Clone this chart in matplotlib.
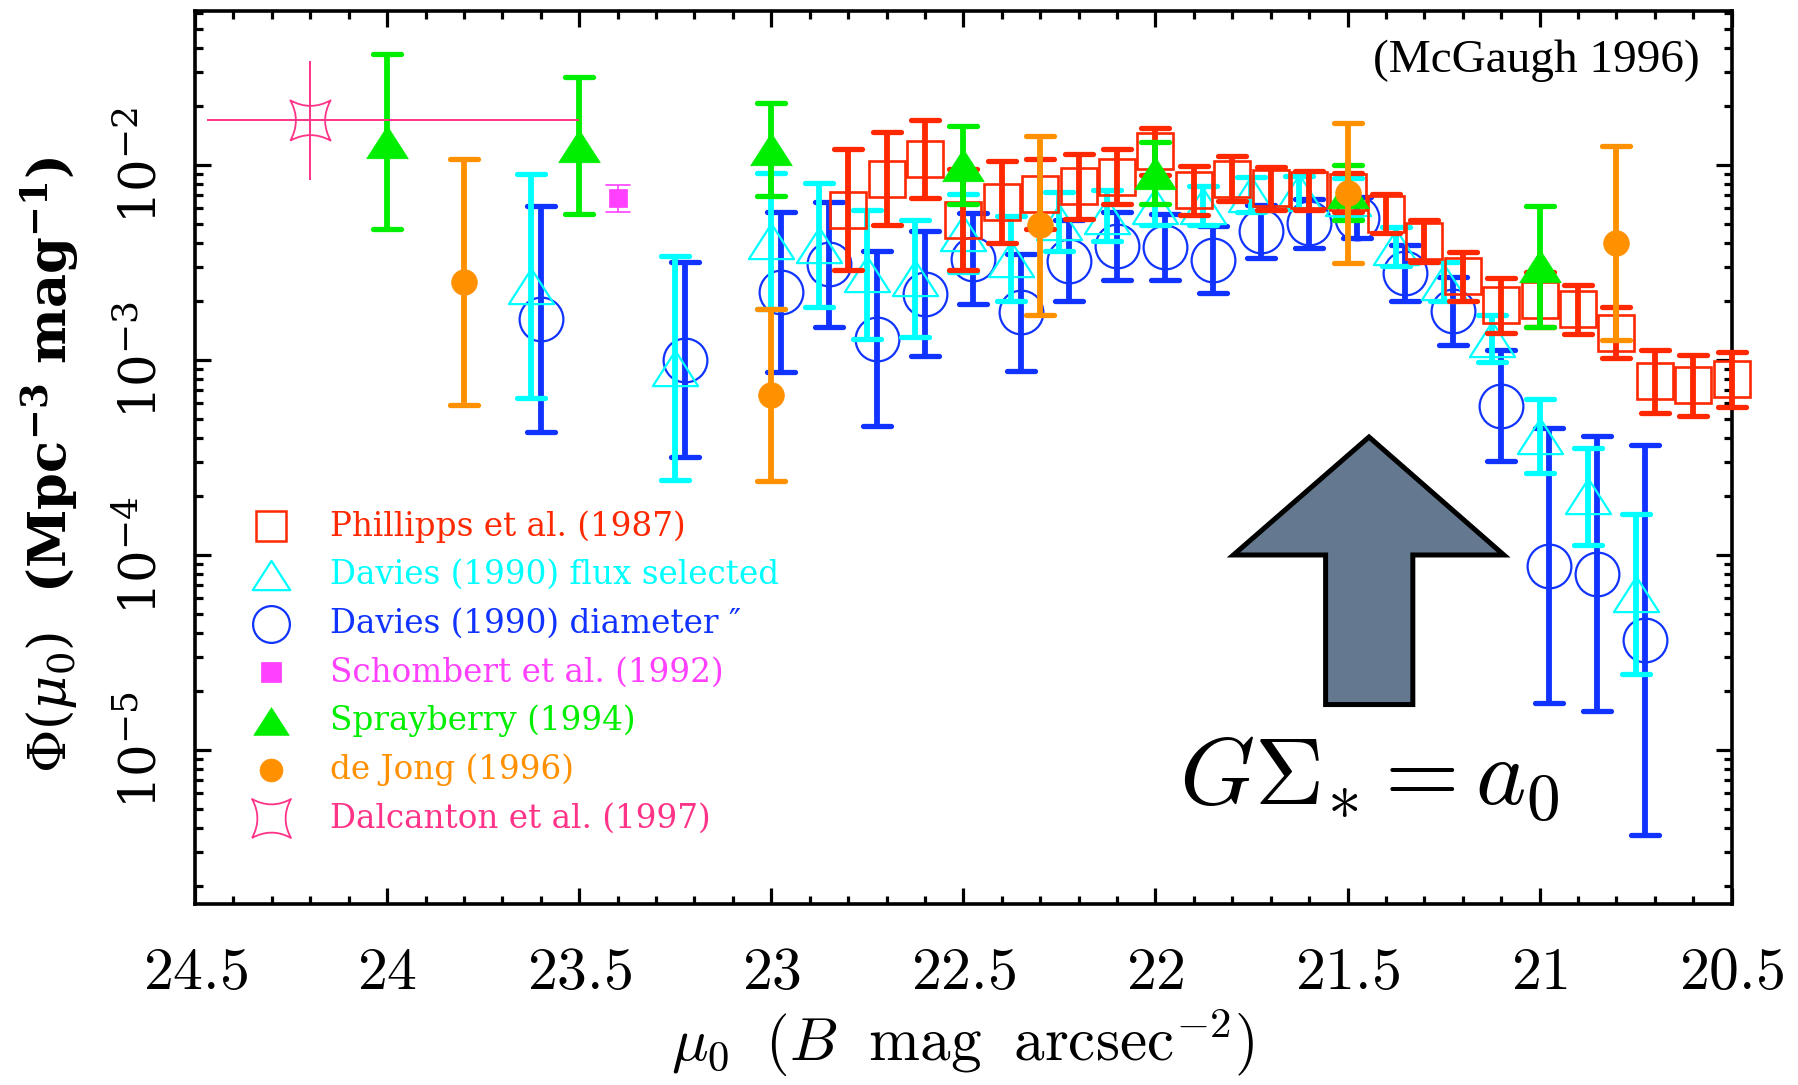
import numpy as np
import matplotlib
matplotlib.use('Agg')
import matplotlib.pyplot as plt
from matplotlib.path import Path
from matplotlib.markers import MarkerStyle
from matplotlib.patches import Polygon
from matplotlib.ticker import MultipleLocator, LogLocator, NullFormatter

# ---- data (log10 Phi and error in dex) ----
red_mu = [22.8, 22.7, 22.6, 22.5, 22.4, 22.3, 22.2, 22.1, 22.0, 21.9, 21.8, 21.7,
          21.6, 21.5, 21.4, 21.3, 21.2, 21.1, 21.0, 20.9, 20.8, 20.7, 20.6, 20.5]
red_logphi = [-2.23, -2.07, -1.97, -2.28, -2.19, -2.15, -2.11, -2.06, -1.93, -2.13, -2.07, -2.12,
              -2.13, -2.14, -2.25, -2.39, -2.57, -2.72, -2.69, -2.74, -2.86, -3.11, -3.13, -3.10]
red_err = [0.31, 0.24, 0.20, 0.26, 0.21, 0.18, 0.165, 0.14, 0.12, 0.125, 0.115, 0.11,
           0.10, 0.10, 0.10, 0.11, 0.125, 0.14, 0.14, 0.125, 0.13, 0.16, 0.155, 0.14]

cyan_mu = [23.625, 23.25, 23.0, 22.875, 22.75, 22.625, 22.5, 22.375, 22.25, 22.125, 22.0,
           21.875, 21.75, 21.625, 21.5, 21.375, 21.25, 21.125, 21.0, 20.875, 20.75]
cyan_logphi = [-2.62, -3.04, -2.39, -2.41, -2.56, -2.58, -2.35, -2.48, -2.29, -2.26, -2.21,
               -2.21, -2.15, -2.14, -2.17, -2.42, -2.60, -2.89, -3.39, -3.70, -4.20]
cyan_err = [0.575, 0.575, 0.35, 0.32, 0.33, 0.30, 0.20, 0.22, 0.15, 0.13, 0.10,
            0.10, 0.09, 0.085, 0.105, 0.10, 0.10, 0.12, 0.19, 0.25, 0.41]

blue_mu = [23.6, 23.225, 22.975, 22.85, 22.725, 22.6, 22.475, 22.35, 22.225, 22.1, 21.975,
           21.85, 21.725, 21.6, 21.475, 21.35, 21.225, 21.1, 20.975, 20.85, 20.725]
blue_logphi = [-2.79, -3.00, -2.65, -2.51, -2.89, -2.66, -2.48, -2.755, -2.49, -2.415, -2.42,
               -2.485, -2.34, -2.30, -2.27, -2.555, -2.75, -3.235, -4.055, -4.095, -4.435]
blue_err = [0.58, 0.50, 0.41, 0.32, 0.45, 0.32, 0.235, 0.30, 0.21, 0.175, 0.17,
            0.17, 0.135, 0.125, 0.105, 0.145, 0.175, 0.285, 0.705, 0.705, 1.0]

mag_mu = [23.4]
mag_logphi = [-2.17]
mag_err = [0.07]

green_mu = [24.0, 23.5, 23.0, 22.5, 22.0, 21.5, 21.0]
green_logphi = [-1.88, -1.90, -1.92, -2.00, -2.04, -2.14, -2.52]
green_err = [0.45, 0.35, 0.24, 0.20, 0.16, 0.14, 0.31]

orange_mu = [23.8, 23.0, 22.3, 21.5, 20.8]
orange_logphi = [-2.60, -3.18, -2.31, -2.145, -2.40]
orange_err = [0.63, 0.44, 0.46, 0.36, 0.50]

dal_mu = [24.2]
dal_logphi = [-1.77]
dal_err = [0.305]
dal_mu_minus = [0.7]    # bar reaches mu = 23.5
dal_mu_plus = [0.27]    # bar reaches close to the left axis

legend_labels = ['Phillipps et al. (1987)', 'Davies (1990) flux selected',
                 'Davies (1990) diameter \u2033', 'Schombert et al. (1992)',
                 'Sprayberry (1994)', 'de Jong (1996)', 'Dalcanton et al. (1997)']
xtick_vals = [24.5, 24, 23.5, 23, 22.5, 22, 21.5, 21, 20.5]
ytick_vals = [1e-5, 1e-4, 1e-3, 1e-2]
ytick_labels = [r'$\mathregular{10^{-5}}$', r'$\mathregular{10^{-4}}$',
                r'$\mathregular{10^{-3}}$', r'$\mathregular{10^{-2}}$']

c_red = '#ff2800'
c_cyan = '#00ffff'
c_blue = '#1133ff'
c_mag = '#ff40ff'
c_green = '#00ee00'
c_orange = '#ff9000'
c_pink = '#ff3388'

# custom markers
tri = Path([(-1, -0.78), (1, -0.78), (0, 0.78), (-1, -0.78)],
           [Path.MOVETO, Path.LINETO, Path.LINETO, Path.CLOSEPOLY])
k = 0.45
star4 = Path([(-1, -1), (0, -k), (1, -1), (k, 0), (1, 1), (0, k), (-1, 1), (-k, 0), (-1, -1)],
             [Path.MOVETO] + [Path.CURVE3] * 8)

fig = plt.figure(figsize=(17.98, 10.85), dpi=100)
ax = fig.add_axes([0.1085, 0.1668, 0.8546, 0.8231])


def series(mu, logphi, err, color, marker, ms, mfc, mew, z, elw=4.2, cs=10, ct=3.8):
    logphi = np.array(logphi)
    err = np.array(err)
    phi = 10 ** logphi
    lo = phi - 10 ** (logphi - err)
    hi = 10 ** (logphi + err) - phi
    eb = ax.errorbar(mu, phi, yerr=[lo, hi], fmt='none', ecolor=color, elinewidth=elw,
                     capsize=cs, capthick=ct, zorder=z)
    for cap in eb[1]:
        cap.set_marker(MarkerStyle('_', capstyle='round'))
        cap.set_clip_on(False)
    for lc in eb[2]:
        lc.set_clip_on(False)
    ax.plot(mu, phi, ls='none', marker=marker, ms=ms, mfc=mfc, mec=color, mew=mew,
            zorder=z + 0.5, clip_on=False)


series(blue_mu, blue_logphi, blue_err, c_blue, 'o', 31.5, 'none', 1.6, 3)
series(cyan_mu, cyan_logphi, cyan_err, c_cyan, tri, 32.5, 'none', 1.6, 4)
series(red_mu, red_logphi, red_err, c_red, 's', 26.5, 'none', 1.9, 5)
series(mag_mu, mag_logphi, mag_err, c_mag, 's', 13, c_mag, 0.5, 6, elw=1.2, cs=8.5, ct=1.2)
series(green_mu, green_logphi, green_err, c_green, tri, 30, c_green, 0.5, 7)
series(orange_mu, orange_logphi, orange_err, c_orange, 'o', 18.5, c_orange, 0.5, 8)

# Dalcanton: thin cross of error bars, no caps
dphi = 10 ** np.array(dal_logphi)
d_lo = dphi - 10 ** (np.array(dal_logphi) - np.array(dal_err))
d_hi = 10 ** (np.array(dal_logphi) + np.array(dal_err)) - dphi
ax.errorbar(dal_mu, dphi, yerr=[d_lo, d_hi], xerr=[dal_mu_minus, dal_mu_plus], fmt='none',
            ecolor=c_pink, elinewidth=1.4, capsize=0, zorder=9)
ax.plot(dal_mu, dphi, ls='none', marker=star4, ms=29, mfc='none', mec=c_pink, mew=1.3, zorder=9.5)

# axes
ax.set_xlim(24.5, 20.5)
ax.set_yscale('log')
ax.set_ylim(10 ** -5.79, 10 ** -1.21)
ax.set_xticks(xtick_vals)
ax.set_xticklabels(['$%g$' % v for v in xtick_vals], fontsize=43, math_fontfamily='cm')
ax.xaxis.set_minor_locator(MultipleLocator(0.1))
ax.set_yticks(ytick_vals)
ax.set_yticklabels(ytick_labels, rotation=90, va='center', fontsize=37, fontfamily='DejaVu Serif')
ax.yaxis.set_minor_locator(LogLocator(base=10.0, subs=np.arange(2, 10), numticks=100))
ax.yaxis.set_minor_formatter(NullFormatter())
ax.tick_params(which='both', direction='in', top=True, right=True, width=2.3, color='black')
ax.tick_params(which='major', length=11.5)
ax.tick_params(which='minor', length=5.8)
ax.tick_params(axis='x', which='major', pad=28)
ax.tick_params(axis='y', which='major', pad=20)
for s in ax.spines.values():
    s.set_linewidth(2.6)

fig.text(0.5355, 1 - 1061 / 1085, r'$\mu_0\;\ (B\;\ \mathrm{mag\;\ arcsec}^{-2})$', fontsize=44,
         math_fontfamily='cm', ha='center', va='baseline')
fig.text(0.028, 0.5714, r'$\Phi(\mu_0)$  (Mpc$^{\mathregular{-3}}$ mag$^{\mathregular{-1}}$)',
         rotation=90, ha='center', va='center', fontsize=38, fontfamily='DejaVu Serif',
         fontweight='bold', math_fontfamily='dejavuserif')

ax.text(0.979, 0.944, '(McGaugh 1996)', transform=ax.transAxes, ha='right', va='center',
        fontsize=34, fontfamily='Liberation Serif')

# big arrow and label
tip_mu, tip_log = 21.444, -3.395
barb_l, barb_r, barb_log = 21.797, 21.093, -4.0
shaft_l, shaft_r, shaft_log = 21.557, 21.330, -4.767
arrow = Polygon([(tip_mu, 10 ** tip_log), (barb_r, 10 ** barb_log), (shaft_r, 10 ** barb_log),
                 (shaft_r, 10 ** shaft_log), (shaft_l, 10 ** shaft_log), (shaft_l, 10 ** barb_log),
                 (barb_l, 10 ** barb_log)], closed=True, facecolor='#64798f', edgecolor='black',
                linewidth=3.6, joinstyle='miter', zorder=10)
ax.add_patch(arrow)
ax.text(tip_mu, 10 ** -5.277, r'$G\Sigma_{*} = a_0$', fontsize=69, math_fontfamily='cm',
        ha='center', va='baseline', zorder=11)

# legend drawn by hand
leg_colors = [c_red, c_cyan, c_blue, c_mag, c_green, c_orange, c_pink]
leg_markers = ['s', tri, 'o', 's', tri, 'o', star4]
leg_ms = [22, 27, 26.5, 14, 25.5, 16.5, 28]
leg_fill = ['none', 'none', 'none', c_mag, c_green, c_orange, 'none']
leg_mew = [1.8, 1.6, 1.6, 0.5, 0.5, 0.5, 1.3]
for i, lab in enumerate(legend_labels):
    yy = 0.423 - i * 0.0545
    ax.plot([0.0495], [yy], transform=ax.transAxes, ls='none', marker=leg_markers[i],
            ms=leg_ms[i], mfc=leg_fill[i], mec=leg_colors[i], mew=leg_mew[i])
    ax.text(0.088, yy, lab, transform=ax.transAxes, color=leg_colors[i], fontsize=23.5,
            fontfamily='DejaVu Serif', ha='left', va='center')

fig.savefig('out.png', dpi=100)
